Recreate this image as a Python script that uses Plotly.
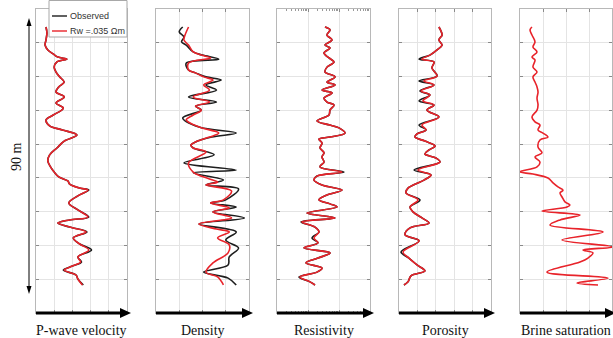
import plotly.graph_objects as go

# ---------------------------------------------------------------- data
# Depth below top of the logged interval (m) and log values.
vp_depth = [0.0, 2.1, 4.5, 6.3, 8.0, 9.4, 10.5, 11.2, 12.2, 14.0, 15.7, 17.4, 19.2, 20.9,
            22.7, 24.4, 26.5, 28.3, 30.7, 32.4, 34.5, 35.9, 37.7, 39.8, 42.2, 44.6, 46.7,
            48.8, 50.6, 52.3, 53.7, 54.8, 56.2, 56.9, 58.9, 61.4, 63.8, 66.3, 67.3, 68.4,
            69.8, 71.5, 73.6, 75.7, 77.8, 80.2, 82.0, 83.4, 84.8, 86.5, 87.9, 90.0]
vp_model = [1.61, 1.62, 1.61, 1.60, 1.63, 1.69, 1.74, 1.84, 1.73, 1.70, 1.72, 1.76, 1.81, 1.75,
            1.72, 1.81, 1.72, 1.80, 1.69, 1.61, 1.65, 1.79, 1.95, 1.81, 1.73, 1.65, 1.63,
            1.66, 1.70, 1.75, 1.85, 1.87, 1.98, 2.07, 1.96, 1.86, 1.96, 2.07, 1.87, 1.74,
            1.87, 2.05, 1.91, 1.98, 2.08, 1.96, 1.99, 1.90, 1.81, 1.94, 1.96, 2.01]
vp_obs = [1.61, 1.62, 1.61, 1.60, 1.63, 1.69, 1.74, 1.84, 1.73, 1.70, 1.72, 1.76, 1.81, 1.75,
          1.72, 1.81, 1.72, 1.80, 1.69, 1.61, 1.65, 1.79, 1.95, 1.81, 1.73, 1.65, 1.63,
          1.66, 1.70, 1.75, 1.85, 1.87, 1.98, 2.08, 1.96, 1.86, 1.96, 2.08, 1.87, 1.74,
          1.87, 2.06, 1.91, 1.98, 2.11, 1.96, 2.00, 1.90, 1.80, 1.94, 1.96, 2.02]

dens_model_depth = [0.0, 2.8, 4.5, 6.3, 8.7, 9.8, 10.8, 12.6, 15.0, 16.0, 17.4, 18.5, 20.2,
                    22.0, 24.4, 26.2, 27.6, 29.0, 30.7, 32.4, 34.9, 37.0, 38.4, 40.1, 41.2,
                    42.2, 43.6, 47.4, 50.6, 53.0, 54.1, 55.1, 57.2, 60.3, 61.4, 63.1, 64.5,
                    66.6, 68.7, 70.5, 71.5, 73.6, 76.0, 78.8, 82.3, 85.5, 87.2, 90.0]
dens_model = [1.88, 1.85, 1.84, 1.88, 1.92, 1.99, 2.07, 1.88, 1.88, 1.94, 2.01, 2.09, 2.01,
              2.06, 1.92, 2.06, 1.94, 1.99, 1.92, 1.86, 1.97, 2.14, 2.06, 1.94, 1.90,
              1.92, 2.03, 1.88, 1.92, 2.06, 2.13, 2.03, 2.25, 2.18, 2.07, 2.23, 2.09,
              2.25, 1.97, 2.12, 2.23, 2.13, 2.23, 2.22, 2.09, 2.03, 2.13, 2.18]
dens_obs_depth = [0.0, 1.7, 3.5, 5.2, 6.3, 8.7, 9.8, 11.2, 12.6, 15.0, 16.0, 17.4, 18.5,
                  20.2, 22.0, 24.4, 26.2, 27.6, 29.0, 31.7, 34.9, 37.0, 38.4, 40.1, 41.2,
                  42.2, 44.6, 47.4, 49.9, 50.9, 53.4, 55.1, 56.5, 60.3, 61.4, 62.8, 64.5,
                  66.6, 68.7, 71.5, 74.3, 77.1, 80.2, 83.0, 85.5, 87.6, 90.0]
dens_obs = [1.83, 1.80, 1.84, 1.82, 1.86, 1.92, 2.00, 2.14, 1.86, 1.88, 1.94, 2.03, 2.16,
            2.03, 2.12, 1.88, 2.12, 1.94, 1.99, 1.83, 1.97, 2.29, 2.08, 1.94, 1.90,
            1.92, 2.10, 1.84, 2.29, 1.92, 2.18, 2.03, 2.31, 2.20, 2.07, 2.29, 2.09,
            2.36, 1.97, 2.29, 2.20, 2.31, 2.23, 2.22, 2.01, 2.22, 2.29]

res_depth = [0.0, 1.0, 2.8, 4.5, 6.3, 7.3, 9.1, 10.8, 12.2, 14.0, 15.7, 17.4, 19.2, 20.2,
             22.0, 23.0, 24.8, 26.2, 27.2, 29.0, 30.7, 32.8, 34.2, 35.2, 37.0, 38.4, 39.1,
             40.5, 42.2, 43.9, 45.3, 47.1, 48.8, 50.6, 52.0, 53.4, 55.1, 56.9, 58.6, 60.3,
             61.7, 62.8, 64.9, 66.6, 68.0, 69.8, 71.5, 73.6, 75.3, 77.1, 78.8, 80.6, 82.3,
             84.1, 85.5, 87.2, 88.9, 90.0]
res_model = [3.53, 5.13, 4.10, 5.94, 3.53, 5.13, 3.28, 4.76, 6.90, 4.10, 3.53, 7.43, 4.10, 7.43,
             2.83, 5.94, 3.28, 4.10, 6.90, 5.13, 4.76, 1.95, 5.13, 10.0, 15.6, 5.13, 2.26,
             2.83, 2.44, 3.28, 2.83, 3.28, 2.44, 12.5, 1.95, 1.56, 2.83, 12.5, 4.10, 2.26,
             5.13, 8.61, 0.93, 7.43, 0.64, 1.68, 2.26, 1.56, 2.10, 0.74, 5.13, 2.10, 0.86,
             2.83, 1.95, 0.55, 1.16, 1.68]
res_obs = [3.53, 5.13, 4.10, 5.94, 3.53, 5.13, 3.28, 4.76, 6.90, 4.10, 3.53, 7.43, 4.10, 7.43,
           2.83, 5.94, 3.28, 4.10, 6.90, 5.13, 4.76, 1.95, 5.13, 10.0, 15.6, 5.13, 2.26,
           2.83, 2.44, 3.28, 2.83, 3.28, 2.44, 14.5, 1.95, 1.56, 2.83, 12.5, 4.10, 2.26,
           5.13, 8.61, 0.93, 7.43, 0.60, 1.68, 2.26, 1.35, 2.10, 0.74, 5.13, 2.10, 0.86,
           2.83, 1.95, 0.51, 1.16, 1.68]

poro_depth = [0.0, 1.4, 2.8, 4.5, 6.3, 8.0, 9.8, 11.2, 12.2, 14.3, 17.1, 18.8, 20.2, 22.3,
              23.7, 25.8, 27.2, 29.0, 31.4, 34.2, 35.9, 37.3, 38.4, 39.8, 41.5, 42.9, 44.3,
              45.7, 47.1, 49.9, 51.6, 53.4, 56.2, 57.9, 60.3, 62.8, 64.5, 66.6, 68.4, 70.1,
              72.5, 74.6, 78.5, 80.6, 83.0, 85.1, 86.8, 88.9, 90.0]
poro_model = [0.417, 0.428, 0.434, 0.417, 0.434, 0.407, 0.368, 0.325, 0.390, 0.379, 0.407,
              0.336, 0.390, 0.320, 0.368, 0.330, 0.390, 0.352, 0.417, 0.325, 0.347, 0.298,
              0.287, 0.341, 0.396, 0.363, 0.341, 0.401, 0.423, 0.303, 0.374, 0.336, 0.249,
              0.238, 0.303, 0.260, 0.276, 0.325, 0.363, 0.260, 0.233, 0.309, 0.222, 0.254,
              0.298, 0.341, 0.265, 0.249, 0.227]
poro_obs = [0.417, 0.428, 0.434, 0.417, 0.434, 0.407, 0.368, 0.309, 0.390, 0.379, 0.407,
            0.309, 0.390, 0.314, 0.368, 0.309, 0.390, 0.352, 0.417, 0.309, 0.347, 0.298,
            0.287, 0.341, 0.396, 0.363, 0.341, 0.401, 0.423, 0.282, 0.374, 0.336, 0.249,
            0.238, 0.314, 0.260, 0.276, 0.325, 0.363, 0.260, 0.233, 0.309, 0.211, 0.254,
            0.298, 0.341, 0.265, 0.249, 0.227]

brine_depth = [0.0, 1.0, 2.8, 5.2, 7.0, 8.7, 10.5, 11.5, 14.0, 15.7, 17.4, 19.2, 20.9, 22.7,
               24.8, 27.2, 29.0, 31.4, 33.1, 34.2, 35.9, 37.0, 38.4, 39.4, 41.9, 43.9, 45.3,
               47.1, 48.8, 50.2, 50.6, 51.3, 52.7, 54.4, 55.8, 56.9, 57.9, 59.3, 61.0, 62.1,
               62.8, 64.2, 65.6, 67.3, 69.1, 71.5, 74.3, 76.7, 77.8, 78.8, 80.6, 82.0, 85.5,
               87.6, 89.3, 90.0]
brine_model = [0.130, 0.109, 0.130, 0.163, 0.141, 0.185, 0.130, 0.163, 0.141, 0.185, 0.141,
               0.163, 0.185, 0.196, 0.185, 0.196, 0.185, 0.130, 0.163, 0.217, 0.196, 0.250,
               0.304, 0.217, 0.196, 0.239, 0.163, 0.217, 0.185, 0.022, 0.0, 0.141, 0.304,
               0.359, 0.413, 0.467, 0.435, 0.457, 0.489, 0.543, 0.511, 0.239, 0.652, 0.435,
               0.326, 0.902, 0.457, 1.02, 0.685, 0.793, 0.739, 0.652, 0.293, 0.957, 0.620,
               0.848]

track_titles = ["P-wave velocity", "Density", "Resistivity", "Porosity", "Brine saturation"]
legend_labels = ["Observed", "Rw =.035 \u03a9m"]

# ---------------------------------------------------------------- layout helpers
W, H = 613, 338


def px(x):
    return x / W


def py(y):
    return 1 - y / H


FRAME_TOP, FRAME_BOTTOM = 9, 313
DEPTH_RANGE = [99.77, -6.28]
DEPTH_STEP = 11.783
OBS_COLOR = "#1e1e1e"
MODEL_COLOR = "#e8232a"
GRID = "#e4e4e4"
FRAME = "#b8b8b8"
SERIF = "Liberation Serif, Times New Roman, serif"
SANS = "Liberation Sans, Arial, sans-serif"

tracks = [
    dict(left=36, right=127, range=[1.5, 2.5], dtick=0.2, log=False,
         obs=(vp_depth, vp_obs), model=(vp_depth, vp_model)),
    dict(left=156, right=249, range=[1.6, 2.4], dtick=0.2, log=False,
         obs=(dens_obs_depth, dens_obs), model=(dens_model_depth, dens_model)),
    dict(left=277, right=370, range=[-1, 2], dtick=1, log=True,
         obs=(res_depth, res_obs), model=(res_depth, res_model)),
    dict(left=399, right=491, range=[0.2, 0.7], dtick=0.1, log=False,
         obs=(poro_depth, poro_obs), model=(poro_depth, poro_model)),
    dict(left=520, right=612, range=[0.0, 1.0], dtick=0.25, log=False,
         obs=None, model=(brine_depth, brine_model)),
]

fig = go.Figure()
shapes, annotations = [], []

for i, (t, title) in enumerate(zip(tracks, track_titles), start=1):
    sfx = "" if i == 1 else str(i)
    xa, ya = "x" + sfx, "y" + sfx
    curve = dict(width=1.6, shape="spline", smoothing=1.0)
    if t["obs"] is not None:
        fig.add_trace(go.Scatter(x=t["obs"][1], y=t["obs"][0], xaxis=xa, yaxis=ya,
                                 mode="lines", line=dict(color=OBS_COLOR, **curve),
                                 showlegend=False, hoverinfo="skip"))
    fig.add_trace(go.Scatter(x=t["model"][1], y=t["model"][0], xaxis=xa, yaxis=ya,
                             mode="lines", line=dict(color=MODEL_COLOR, **curve),
                             showlegend=False, hoverinfo="skip"))

    common = dict(showgrid=True, gridcolor=GRID, gridwidth=1, zeroline=False,
                  showline=True, linecolor=FRAME, linewidth=1, mirror="ticks",
                  ticks="inside", ticklen=3, tickcolor="#8a8a8a",
                  showticklabels=False, fixedrange=True)
    xaxis = dict(domain=[px(t["left"]), px(t["right"])], anchor=ya, range=t["range"],
                 dtick=t["dtick"], **common)
    if t["log"]:
        xaxis.update(type="log", minor=dict(ticks="inside", ticklen=2, tickcolor="#9a9a9a",
                                            showgrid=False))
    else:
        xaxis.update(tick0=t["range"][0])
    yaxis = dict(domain=[py(FRAME_BOTTOM), py(FRAME_TOP)], anchor=xa, range=DEPTH_RANGE,
                 tick0=DEPTH_RANGE[1], dtick=DEPTH_STEP, **common)
    fig.layout["xaxis" + sfx] = xaxis
    fig.layout["yaxis" + sfx] = yaxis

    # thick axis arrow along the bottom of each track
    L, R = t["left"], t["right"]
    shapes.append(dict(type="line", xref="paper", yref="paper",
                       x0=px(L), x1=px(R - 6), y0=py(FRAME_BOTTOM), y1=py(FRAME_BOTTOM),
                       line=dict(color="black", width=3)))
    shapes.append(dict(type="path", xref="paper", yref="paper",
                       path=f"M{px(R - 7)},{py(FRAME_BOTTOM - 5)} L{px(R + 4)},{py(FRAME_BOTTOM)} "
                            f"L{px(R - 7)},{py(FRAME_BOTTOM + 5)} Z",
                       fillcolor="black", line=dict(color="black", width=0)))
    annotations.append(dict(text=title, xref="paper", yref="paper",
                            x=px((L + R) / 2), y=py(330), xanchor="center", yanchor="middle",
                            showarrow=False, font=dict(family=SERIF, size=14, color="#111")))

# depth scale bar on the left
shapes.append(dict(type="line", xref="paper", yref="paper", x0=px(29), x1=px(29),
                   y0=py(24), y1=py(288), line=dict(color="black", width=1)))
shapes.append(dict(type="path", xref="paper", yref="paper",
                   path=f"M{px(26.5)},{py(26)} L{px(29)},{py(18)} L{px(31.5)},{py(26)} Z",
                   fillcolor="black", line=dict(width=0)))
shapes.append(dict(type="path", xref="paper", yref="paper",
                   path=f"M{px(26.5)},{py(286)} L{px(29)},{py(294)} L{px(31.5)},{py(286)} Z",
                   fillcolor="black", line=dict(width=0)))
annotations.append(dict(text="90 m", xref="paper", yref="paper", x=px(16), y=py(157),
                        textangle=-90, showarrow=False, xanchor="center", yanchor="middle",
                        font=dict(family=SERIF, size=14, color="#111")))

# legend box in the first track
shapes.append(dict(type="rect", xref="paper", yref="paper", x0=px(49), x1=px(127),
                   y0=py(37), y1=py(0.5), fillcolor="white",
                   line=dict(color="#a8a8a8", width=1)))
for label, color, yy in zip(legend_labels, [OBS_COLOR, MODEL_COLOR], [16, 31]):
    shapes.append(dict(type="line", xref="paper", yref="paper", x0=px(52), x1=px(67),
                       y0=py(yy), y1=py(yy), line=dict(color=color, width=1.4)))
    annotations.append(dict(text=label, xref="paper", yref="paper", x=px(68), y=py(yy),
                            xanchor="left", yanchor="middle", showarrow=False,
                            font=dict(family=SANS, size=9, color="#333")))

fig.update_layout(width=W, height=H, margin=dict(l=0, r=0, t=0, b=0),
                  paper_bgcolor="white", plot_bgcolor="white", showlegend=False,
                  shapes=shapes, annotations=annotations)

fig.write_html("out.html")
